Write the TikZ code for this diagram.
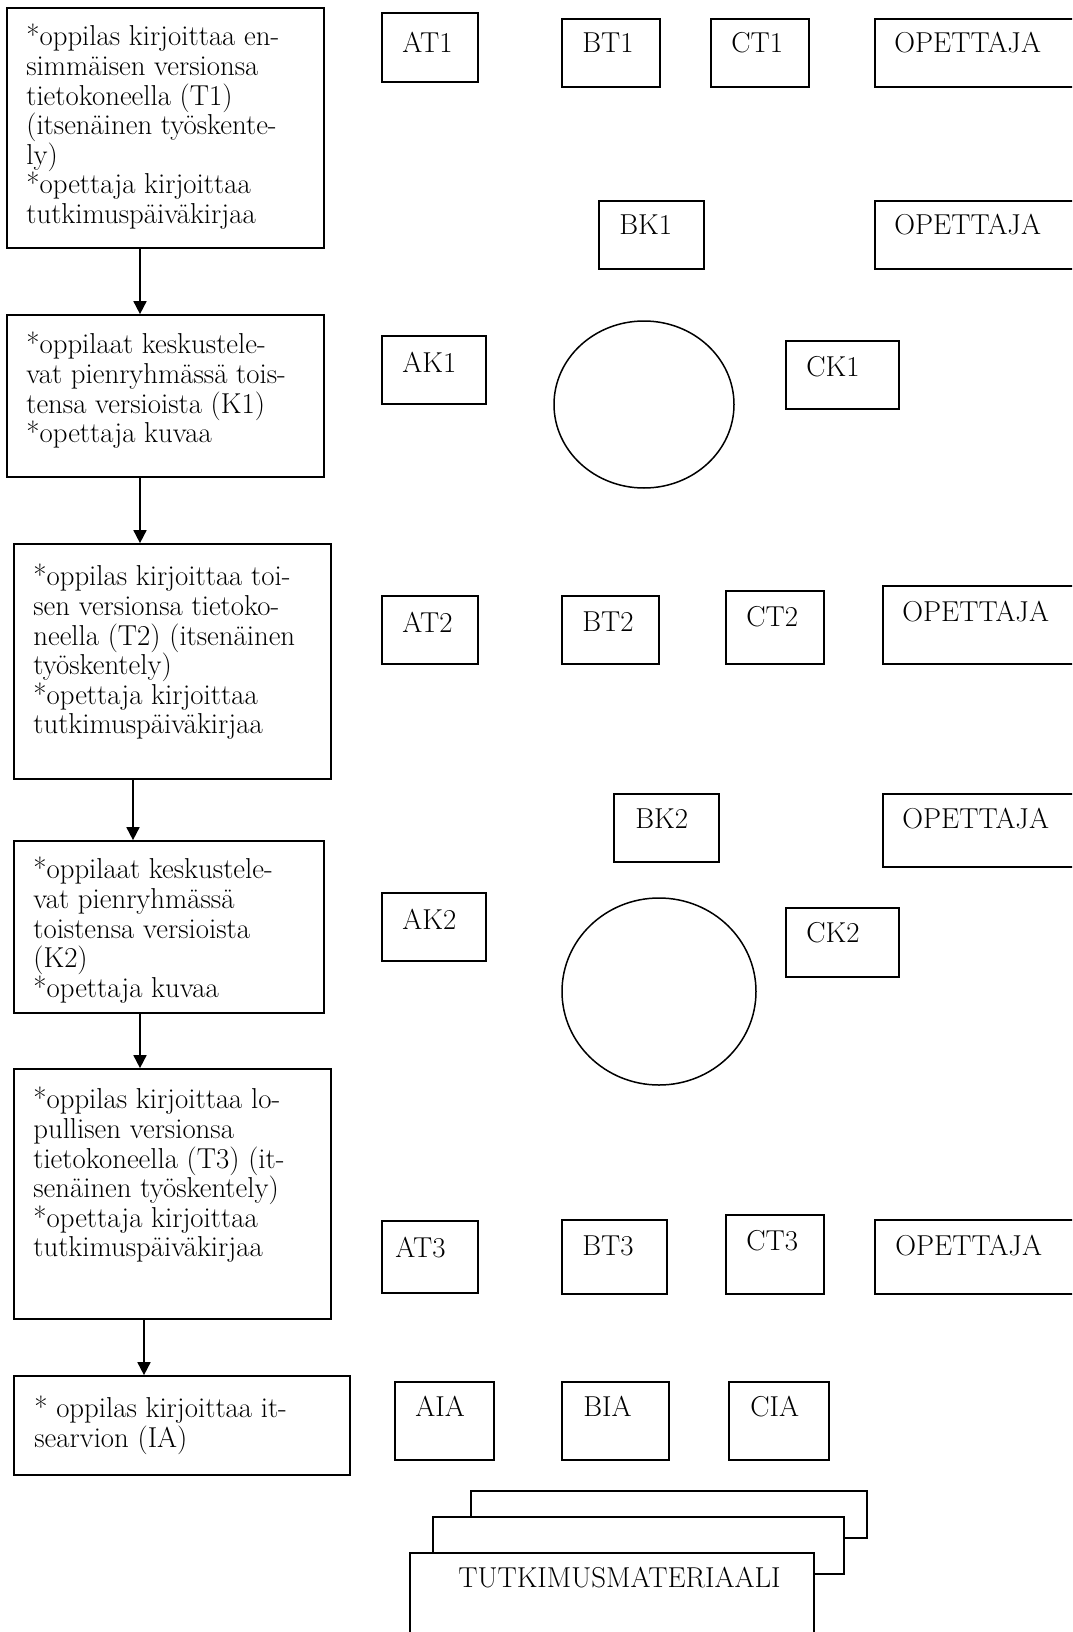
\documentclass[tikz,border=0pt]{standalone}
\usepackage{tikz}
\usetikzlibrary{arrows.meta,shapes.geometric}

\tikzset{
  phasebox/.style={draw, line width=1.7pt, fill=white, inner sep=0pt},
  boxtext/.style={anchor=north west, inner sep=0pt, align=left,
    font=\fontsize{28.8}{29.6}\selectfont},
  flow/.style={line width=1.7pt, -{Triangle[length=13pt,width=13pt]}},
  group/.style={draw, ellipse, line width=1.5pt, inner sep=0pt}
}

\begin{document}
\begin{tikzpicture}[x=1pt,y=-1pt]
    \useasboundingbox (0,0) rectangle (1072,1632);
    \clip (0,0) rectangle (1072,1632);

    % Left column: the phases of the writing process
    \node[phasebox, minimum width=317, minimum height=240] (t1) at (165.5,128) {};
    \node[boxtext] at ([shift={(20,17)}]t1.north west)
      {*oppilas kirjoittaa en-\\simmäisen versionsa\\tietokoneella (T1)\\(itsenäinen työskente-\\ly)\\*opettaja kirjoittaa\\tutkimuspäiväkirjaa};

    \node[phasebox, minimum width=317, minimum height=162] (k1) at (165.5,396) {};
    \node[boxtext] at ([shift={(20,18)}]k1.north west)
      {*oppilaat keskustele-\\vat pienryhmässä tois-\\tensa versioista (K1)\\*opettaja kuvaa};

    \node[phasebox, minimum width=317, minimum height=235] (t2) at (172.5,661.5) {};
    \node[boxtext] at ([shift={(20,21)}]t2.north west)
      {*oppilas kirjoittaa toi-\\sen versionsa tietoko-\\neella (T2) (itsenäinen\\työskentely)\\*opettaja kirjoittaa\\tutkimuspäiväkirjaa};

    \node[phasebox, minimum width=310, minimum height=172] (k2) at (169,927) {};
    \node[boxtext] at ([shift={(20,17)}]k2.north west)
      {*oppilaat keskustele-\\vat pienryhmässä\\toistensa versioista\\(K2)\\*opettaja kuvaa};

    \node[phasebox, minimum width=317, minimum height=250] (t3) at (172.5,1194) {};
    \node[boxtext] at ([shift={(20,19)}]t3.north west)
      {*oppilas kirjoittaa lo-\\pullisen versionsa\\tietokoneella (T3) (it-\\senäinen työskentely)\\*opettaja kirjoittaa\\tutkimuspäiväkirjaa};

    \node[phasebox, minimum width=336, minimum height=99] (ia) at (182,1425.5) {};
    \node[boxtext] at ([shift={(21,21)}]ia.north west)
      {* oppilas kirjoittaa it-\\searvion (IA)};

    % Arrows between the phases
    \draw[flow] ([xshift=-25.5pt]t1.south) -- ([xshift=-25.5pt]k1.north);
    \draw[flow] ([xshift=-25.5pt]k1.south) -- ([xshift=-32.5pt]t2.north);
    \draw[flow] ([xshift=-39.5pt]t2.south) -- ([xshift=-36pt]k2.north);
    \draw[flow] ([xshift=-29pt]k2.south) -- ([xshift=-32.5pt]t3.north);
    \draw[flow] ([xshift=-28.5pt]t3.south) -- ([xshift=-38pt]ia.north);

    % Data boxes of the pupils and the teacher
    \foreach \nm/\cx/\cy/\w/\h/\dx/\dy/\txt in {
        at1/430/47.5/96/69/21/20/AT1, bt1/611/53/98/68/21/14/BT1,
        ct1/760/53/98/68/21/14/CT1, op1/985/53/220/68/20/14/OPETTAJA,
        bk1/651.5/235/105/68/21/14/BK1, op2/982.5/235/215/68/20/14/OPETTAJA,
        ak1/434/370/104/68/21/17/AK1, ck1/842.5/375/113/68/21/16/CK1,
        at2/430/630/96/68/21/17/AT2, bt2/610.5/630/97/68/21/16/BT2,
        ct2/775/627.5/98/73/21/16/CT2, op3/986.5/625/207/78/20/16/OPETTAJA,
        bk2/666.5/828/105/68/22/15/BK2, op4/986.5/830.5/207/73/20/15/OPETTAJA,
        ak2/434/927/104/68/21/17/AK2, ck2/842.5/942.5/113/69/21/15/CK2,
        at3/430/1257/96/72/14/17/AT3, bt3/614.5/1257/105/74/21/16/BT3,
        ct3/775/1254.5/98/79/21/16/CT3, op5/982.5/1257/215/74/21/16/OPETTAJA,
        aia/444.5/1421/99/78/21/15/AIA, bia/615.5/1421/107/78/22/15/BIA,
        cia/779/1421/100/78/22/15/CIA} {
      \node[phasebox, minimum width=\w, minimum height=\h] (\nm) at (\cx,\cy) {};
      \node[boxtext] at ([shift={(\dx,\dy)}]\nm.north west) {\txt};
    }

    % Small group discussions
    \node[group, minimum width=180, minimum height=167] (g1) at (644,404.5) {};
    \node[group, minimum width=194, minimum height=187] (g2) at (659,991.5) {};

    % Stack of research material
    \node[phasebox, minimum width=396, minimum height=47] (sheet3) at (669,1514.5) {};
    \node[phasebox, minimum width=411, minimum height=57] (sheet2) at (638.5,1545.5) {};
    \node[phasebox, minimum width=404, minimum height=107] (sheet1) at (612,1606.5) {};
    \node[boxtext] at ([shift={(49,15)}]sheet1.north west) {TUTKIMUSMATERIAALI};
\end{tikzpicture}
\end{document}
